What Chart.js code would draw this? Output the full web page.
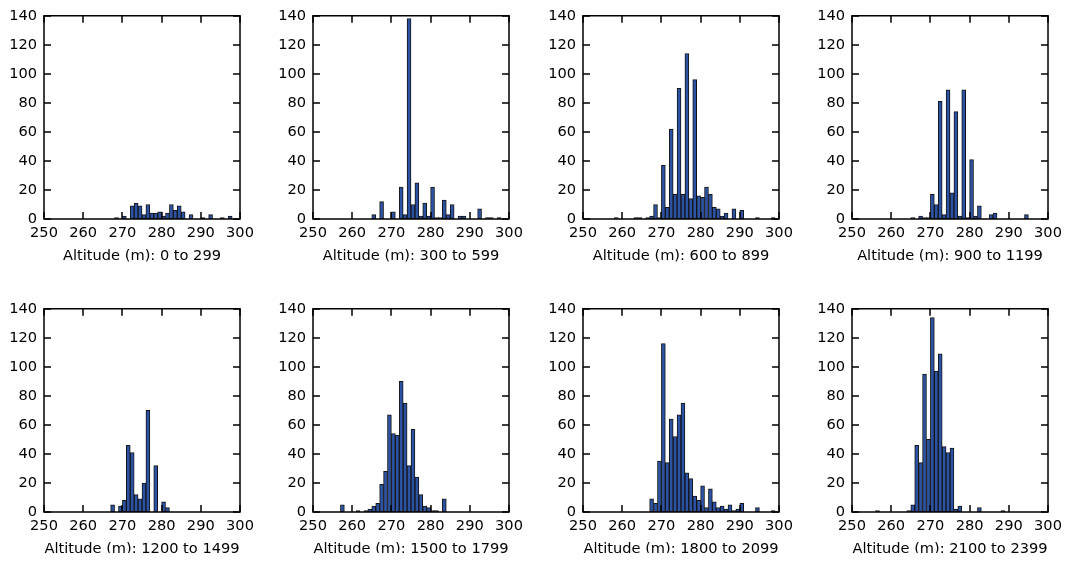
<!DOCTYPE html>
<html>
<head>
<meta charset="utf-8">
<script src="https://cdn.jsdelivr.net/npm/chart.js@4.4.0/dist/chart.umd.min.js"></script>
<style>
  html, body { margin: 0; padding: 0; background: #fff; overflow: hidden; }
  #fig { position: relative; width: 1070px; height: 561px; overflow: hidden; background: #fff; }
  .cell { position: absolute; overflow: hidden; }
  .cell canvas { position: absolute; left: 0; top: 0; }
</style>
</head>
<body>
<div id="fig"></div>
<script>
// Histogram bins: 1 m wide, lower edges 250 ... 299
const binStarts = [
  250, 251, 252, 253, 254, 255, 256, 257, 258, 259,
  260, 261, 262, 263, 264, 265, 266, 267, 268, 269,
  270, 271, 272, 273, 274, 275, 276, 277, 278, 279,
  280, 281, 282, 283, 284, 285, 286, 287, 288, 289,
  290, 291, 292, 293, 294, 295, 296, 297, 298, 299
];

// Counts per bin for each altitude band
const alt0to299 = [
  0, 0, 0, 0, 0, 0, 0, 0, 0, 0,
  0, 0, 0, 0, 0, 0, 0, 0, 1, 0,
  2, 0, 9, 11, 9, 3, 10, 4, 4, 5,
  2, 4, 10, 6, 9, 5, 0, 3, 0, 0,
  1, 0, 3, 0, 0, 1, 0, 2, 0, 0
];
const alt300to599 = [
  0, 0, 0, 0, 0, 0, 0, 0, 0, 0,
  0, 0, 0, 0, 0, 3, 0, 12, 0, 0,
  5, 0, 22, 3, 138, 10, 25, 2, 11, 2,
  22, 1, 1, 13, 3, 10, 0, 2, 2, 0,
  0, 0, 7, 0, 1, 1, 0, 1, 0, 0
];
const alt600to899 = [
  0, 0, 0, 0, 0, 0, 0, 0, 1, 0,
  0, 0, 0, 1, 1, 0, 1, 2, 10, 1,
  37, 8, 62, 17, 90, 17, 114, 14, 96, 16,
  15, 22, 17, 8, 7, 2, 4, 0, 7, 0,
  6, 0, 0, 0, 1, 0, 0, 0, 1, 0
];
const alt900to1199 = [
  0, 0, 0, 0, 0, 0, 0, 0, 0, 0,
  0, 0, 0, 0, 0, 1, 0, 2, 1, 1,
  17, 10, 81, 3, 89, 18, 74, 2, 89, 1,
  41, 2, 9, 0, 0, 3, 4, 0, 0, 0,
  0, 0, 0, 0, 3, 0, 0, 0, 0, 0
];
const alt1200to1499 = [
  0, 0, 0, 0, 0, 0, 0, 0, 0, 0,
  0, 0, 0, 0, 0, 0, 0, 5, 0, 4,
  8, 46, 41, 12, 9, 20, 70, 0, 32, 0,
  7, 3, 0, 0, 0, 0, 0, 0, 0, 0,
  0, 0, 0, 0, 0, 0, 0, 0, 0, 0
];
const alt1500to1799 = [
  0, 0, 0, 0, 0, 0, 0, 5, 0, 0,
  0, 1, 0, 1, 2, 4, 6, 19, 28, 67,
  54, 53, 90, 75, 32, 57, 24, 12, 4, 3,
  1, 1, 0, 9, 0, 0, 0, 0, 0, 0,
  0, 0, 0, 0, 0, 0, 0, 0, 0, 0
];
const alt1800to2099 = [
  0, 0, 0, 0, 0, 0, 0, 0, 0, 0,
  0, 0, 0, 0, 0, 0, 0, 9, 6, 35,
  116, 34, 64, 52, 67, 75, 27, 23, 11, 8,
  18, 3, 16, 7, 3, 4, 2, 5, 1, 2,
  6, 0, 0, 0, 3, 0, 0, 0, 1, 0
];
const alt2100to2399 = [
  0, 0, 0, 0, 0, 0, 1, 0, 0, 0,
  0, 0, 0, 0, 1, 5, 46, 34, 95, 50,
  134, 97, 109, 45, 41, 44, 2, 4, 0, 0,
  0, 0, 3, 0, 0, 0, 0, 0, 1, 0,
  0, 0, 0, 0, 0, 0, 0, 0, 0, 0
];

const panelSeries = [
  alt0to299, alt300to599, alt600to899, alt900to1199,
  alt1200to1499, alt1500to1799, alt1800to2099, alt2100to2399
];
const panelLabels = [
  'Altitude (m): 0 to 299', 'Altitude (m): 300 to 599',
  'Altitude (m): 600 to 899', 'Altitude (m): 900 to 1199',
  'Altitude (m): 1200 to 1499', 'Altitude (m): 1500 to 1799',
  'Altitude (m): 1800 to 2099', 'Altitude (m): 2100 to 2399'
];

// Axis ranges and tick spacing
const xRange = [250, 300];
const xTickStep = 10;
const yRange = [0, 140];
const yTickStep = 20;

// Layout of the 2 x 4 grid (plot-area corners in page pixels)
const colLefts = [44, 313, 583, 852];
const rowTops = [15, 308];
const plotW = 196, plotH = 204;
const yAxisW = 44, xAxisH = 50, padTop = 15, padRight = 20;
const clipBottom = 553;

const BAR_FILL = '#2b52a3';
const BAR_EDGE = '#141414';
const INK = '#000000';

Chart.defaults.font.family = "'DejaVu Sans', 'Liberation Sans', sans-serif";
Chart.defaults.font.size = 14.6;
Chart.defaults.color = INK;

// Axes box plus inward ticks on all four sides
const boxAndTicks = {
  id: 'boxAndTicks',
  afterDatasetsDraw(chart) {
    const { ctx, chartArea: a, scales: { x, y } } = chart;
    const len = 7;
    ctx.save();
    ctx.strokeStyle = INK;
    ctx.lineWidth = 1.5;
    ctx.beginPath();
    x.ticks.forEach(t => {
      const px = Math.round(x.getPixelForValue(t.value));
      ctx.moveTo(px, a.bottom); ctx.lineTo(px, a.bottom - len);
      ctx.moveTo(px, a.top); ctx.lineTo(px, a.top + len);
    });
    y.ticks.forEach(t => {
      const py = Math.round(y.getPixelForValue(t.value));
      ctx.moveTo(a.left, py); ctx.lineTo(a.left + len, py);
      ctx.moveTo(a.right, py); ctx.lineTo(a.right - len, py);
    });
    ctx.stroke();
    ctx.strokeRect(a.left, a.top, a.width, a.height);
    ctx.restore();
  }
};

const fig = document.getElementById('fig');

panelSeries.forEach((counts, i) => {
  const row = Math.floor(i / 4), col = i % 4;
  const left = colLefts[col] - yAxisW;
  const top = rowTops[row] - padTop;
  const cw = yAxisW + plotW + padRight;
  const ch = padTop + plotH + xAxisH;

  const cell = document.createElement('div');
  cell.className = 'cell';
  cell.style.left = left + 'px';
  cell.style.top = top + 'px';
  cell.style.width = cw + 'px';
  cell.style.height = Math.min(ch, clipBottom - top) + 'px';
  const canvas = document.createElement('canvas');
  canvas.width = cw;
  canvas.height = ch;
  canvas.style.width = cw + 'px';
  canvas.style.height = ch + 'px';
  cell.appendChild(canvas);
  fig.appendChild(cell);

  new Chart(canvas, {
    type: 'bar',
    data: {
      datasets: [{
        data: binStarts.map((b, k) => ({ x: b + 0.5, y: counts[k] })),
        backgroundColor: BAR_FILL,
        borderColor: BAR_EDGE,
        borderWidth: 1,
        borderSkipped: false,
        barPercentage: 1,
        categoryPercentage: 1
      }]
    },
    options: {
      responsive: false,
      animation: false,
      devicePixelRatio: 1,
      events: [],
      layout: { padding: { top: padTop, right: padRight, left: 0, bottom: 0 } },
      plugins: { legend: { display: false }, tooltip: { enabled: false } },
      scales: {
        x: {
          type: 'linear',
          min: xRange[0], max: xRange[1],
          offset: false,
          grid: { display: false, drawTicks: false },
          border: { display: false },
          ticks: { stepSize: xTickStep, autoSkip: false, maxRotation: 0, padding: 5, color: INK },
          title: { display: true, text: panelLabels[i], color: INK, padding: { top: 0, bottom: 4 } },
          afterFit(s) { s.height = xAxisH; }
        },
        y: {
          min: yRange[0], max: yRange[1],
          grid: { display: false, drawTicks: false },
          border: { display: false },
          ticks: { stepSize: yTickStep, autoSkip: false, padding: 7, color: INK },
          afterFit(s) { s.width = yAxisW; }
        }
      }
    },
    plugins: [boxAndTicks]
  });
});
</script>
</body>
</html>
